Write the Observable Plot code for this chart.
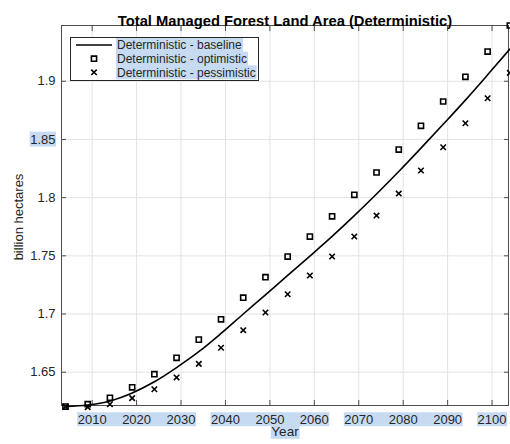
<!DOCTYPE html>
<html>
<head>
<meta charset="utf-8">
<script src="https://cdn.jsdelivr.net/npm/d3@7"></script>
<script src="https://cdn.jsdelivr.net/npm/@observablehq/plot@0.6"></script>
<style>
  html, body { margin: 0; padding: 0; background: #fff; }
  #chart { width: 510px; height: 444px; }
</style>
</head>
<body>
<div id="chart"></div>
<script>
const years = [2004, 2009, 2014, 2019, 2024, 2029, 2034, 2039, 2044, 2049, 2054,
               2059, 2064, 2069, 2074, 2079, 2084, 2089, 2094, 2099, 2104];
const baseline = [1.6205, 1.6218, 1.6253, 1.6322, 1.6418, 1.6540, 1.6676, 1.6833, 1.7000, 1.7165, 1.7332,
                  1.7498, 1.7667, 1.7845, 1.8031, 1.8224, 1.8425, 1.8630, 1.8838, 1.9055, 1.9276];
const optimistic = [1.6205, 1.6225, 1.6280, 1.6370, 1.6483, 1.6624, 1.6780, 1.6955, 1.7140, 1.7316, 1.7494,
                    1.7666, 1.7840, 1.8024, 1.8216, 1.8413, 1.8617, 1.8826, 1.9038, 1.9255, 1.9479];
const pessimistic = [1.6205, 1.6200, 1.6225, 1.6277, 1.6354, 1.6455, 1.6572, 1.6710, 1.6861, 1.7013, 1.7170,
                     1.7331, 1.7494, 1.7666, 1.7846, 1.8035, 1.8233, 1.8433, 1.8639, 1.8854, 1.9072];
const xTicks = [2010, 2020, 2030, 2040, 2050, 2060, 2070, 2080, 2090, 2100];
const yTicks = [1.65, 1.7, 1.75, 1.8, 1.85, 1.9];
const seriesNames = ["Deterministic - baseline", "Deterministic - optimistic", "Deterministic - pessimistic"];
const titleText = "Total Managed Forest Land Area (Deterministic)";
const xLabel = "Year";
const yLabel = "billion hectares";

const baseData = years.map((x, i) => ({x, y: baseline[i]}));
const optData = years.map((x, i) => ({x, y: optimistic[i]}));
const pesData = years.map((x, i) => ({x, y: pessimistic[i]}));

const FONT = "'Liberation Sans', Arial, Helvetica, sans-serif";
const AXIS = "#4d4d4d";
const HL = "#c6dbf1";
const SQ_R = 2.9, X_R = 2.6;

const svg = Plot.plot({
  width: 510,
  height: 444,
  marginLeft: 61,
  marginRight: 2,
  marginTop: 25,
  marginBottom: 39,
  style: {fontFamily: FONT, fontSize: "13px", color: "#262626", background: "white"},
  x: {domain: [2003.1, 2103.7]},
  y: {domain: [1.6214, 1.9479]},
  marks: [
    Plot.gridX(xTicks, {stroke: "#e3e3e3", strokeOpacity: 1}),
    Plot.gridY(yTicks, {stroke: "#e3e3e3", strokeOpacity: 1}),
    Plot.frame({stroke: AXIS, strokeWidth: 1}),
    Plot.axisX(xTicks, {anchor: "bottom", tickSize: 0, tickPadding: 9, label: null, tickFormat: d => String(d), fill: "#262626", fontSize: 13}),
    Plot.axisX(xTicks, {anchor: "bottom", tickSize: -5, tickFormat: () => "", label: null, stroke: AXIS}),
    Plot.axisX(xTicks, {anchor: "top", tickSize: -5, tickFormat: () => "", label: null, stroke: AXIS}),
    Plot.axisY(yTicks, {anchor: "left", tickSize: 0, tickPadding: 6, label: null, tickFormat: d => String(d), fill: "#262626", fontSize: 13}),
    Plot.axisY(yTicks, {anchor: "left", tickSize: -5, tickFormat: () => "", label: null, stroke: AXIS}),
    Plot.axisY(yTicks, {anchor: "right", tickSize: -5, tickFormat: () => "", label: null, stroke: AXIS}),
    Plot.line(baseData, {x: "x", y: "y", stroke: "black", strokeWidth: 1.6, curve: "monotone-x"}),
    Plot.dot(optData, {x: "x", y: "y", symbol: "square", r: SQ_R, stroke: "black", strokeWidth: 1.6, fill: "none"}),
    Plot.dot(pesData, {x: "x", y: "y", symbol: "times", r: X_R, stroke: "black", strokeWidth: 1.6}),
    Plot.text([titleText], {text: d => d, frameAnchor: "top", dy: -10, fontWeight: "bold", fontSize: 14.75, fill: "black"}),
    Plot.text([xLabel], {text: d => d, frameAnchor: "bottom", dy: 30.8, fontSize: 13.5, fill: "#262626"}),
    Plot.text([yLabel], {text: d => d, frameAnchor: "left", textAnchor: "middle", dx: -43, dy: 1.5, rotate: -90, fontSize: 13, fill: "#262626"})
  ]
});

document.getElementById("chart").appendChild(svg);

// Legend (drawn inside the axes, top-left)
const root = d3.select(svg);
const lg = root.append("g").attr("font-family", FONT).attr("font-size", 12).attr("text-anchor", "start");
const lx = 70, ly = 37, lw = 188, lh = 43;
lg.append("rect").attr("x", lx + 0.5).attr("y", ly + 0.5).attr("width", lw).attr("height", lh)
  .attr("fill", "white").attr("stroke", "#262626").attr("stroke-width", 1);
const rowY = [45, 58.7, 72.3];
const texts = seriesNames.map((name, i) => lg.append("text").attr("x", 117).attr("y", rowY[i]).attr("dy", "0.35em")
  .attr("text-anchor", "start").attr("fill", "#262626").text(name));
texts.forEach((t, i) => {
  const b = t.node().getBBox();
  lg.insert("rect", "text").attr("x", b.x - 1).attr("y", rowY[i] - 7).attr("width", b.width + 2).attr("height", 14).attr("fill", HL);
});
lg.append("line").attr("x1", 76).attr("x2", 112).attr("y1", rowY[0]).attr("y2", rowY[0]).attr("stroke", "black").attr("stroke-width", 1.6);
lg.append("path").attr("d", d3.symbol(d3.symbolSquare, SQ_R * SQ_R * Math.PI)()).attr("transform", `translate(94,${rowY[1]})`)
  .attr("fill", "none").attr("stroke", "black").attr("stroke-width", 1.6);
lg.append("path").attr("d", d3.symbol(d3.symbolTimes, X_R * X_R * Math.PI)()).attr("transform", `translate(94,${rowY[2]})`)
  .attr("fill", "none").attr("stroke", "black").attr("stroke-width", 1.6);

// selection-like highlights behind some labels
const hlLayer = root.insert("g", ":first-child");
const allText = Array.from(svg.querySelectorAll("text"));
function findText(s) { return allText.find(t => t.textContent === s); }
function highlight(labels, padX, padY) {
  const boxes = labels.map(findText).filter(Boolean).map(t => {
    const b = t.getBBox();
    const m = t.getCTM();
    return {x0: b.x + m.e, x1: b.x + b.width + m.e, y0: b.y + m.f, y1: b.y + b.height + m.f};
  });
  if (!boxes.length) return;
  const x0 = d3.min(boxes, d => d.x0) - padX, x1 = d3.max(boxes, d => d.x1) + padX;
  const y0 = d3.min(boxes, d => d.y0) - padY, y1 = d3.max(boxes, d => d.y1) + padY;
  hlLayer.append("rect").attr("x", x0).attr("y", y0).attr("width", x1 - x0).attr("height", y1 - y0).attr("fill", HL);
}
highlight(["2010", "2020", "2030"], 0.5, -0.5);
highlight(["2040", "2050", "2060"], 0.5, -0.5);
highlight(["2070", "2080", "2090"], 0.5, -0.5);
highlight(["2100"], 0.5, -0.5);
highlight(["1.85"], 0.5, 0);
highlight([xLabel], 0.5, -0.5);
</script>
</body>
</html>
